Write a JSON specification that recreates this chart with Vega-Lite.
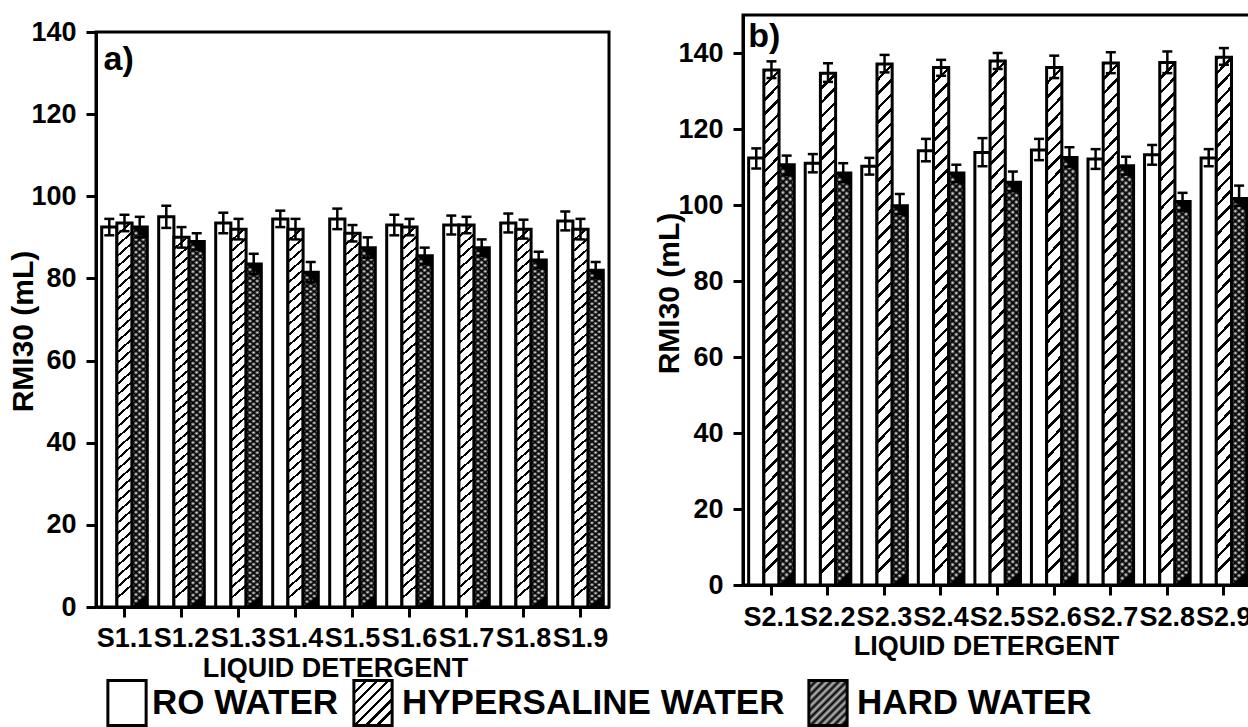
{
  "$schema": "https://vega.github.io/schema/vega-lite/v6.json",
  "background": "white",
  "padding": {"left": 6, "top": 13, "right": 0, "bottom": 0},
  "bounds": "flush",
  "spacing": 647,
  "datasets": {
    "bars": [
      {"panel": "a", "sample": "S1.1", "water": "RO WATER", "mean": 92.5, "low": 90.5, "high": 94.5},
      {"panel": "a", "sample": "S1.1", "water": "HYPERSALINE WATER", "mean": 93.5, "low": 91.5, "high": 95.5},
      {"panel": "a", "sample": "S1.1", "water": "HARD WATER", "mean": 92.5, "low": 90, "high": 95},
      {"panel": "a", "sample": "S1.2", "water": "RO WATER", "mean": 95, "low": 92.3, "high": 97.7},
      {"panel": "a", "sample": "S1.2", "water": "HYPERSALINE WATER", "mean": 90, "low": 87.5, "high": 92.5},
      {"panel": "a", "sample": "S1.2", "water": "HARD WATER", "mean": 89, "low": 87, "high": 91},
      {"panel": "a", "sample": "S1.3", "water": "RO WATER", "mean": 93.5, "low": 91, "high": 96},
      {"panel": "a", "sample": "S1.3", "water": "HYPERSALINE WATER", "mean": 92, "low": 89.5, "high": 94.5},
      {"panel": "a", "sample": "S1.3", "water": "HARD WATER", "mean": 83.5, "low": 81, "high": 86},
      {"panel": "a", "sample": "S1.4", "water": "RO WATER", "mean": 94.5, "low": 92.5, "high": 96.5},
      {"panel": "a", "sample": "S1.4", "water": "HYPERSALINE WATER", "mean": 92, "low": 89.5, "high": 94.5},
      {"panel": "a", "sample": "S1.4", "water": "HARD WATER", "mean": 81.5, "low": 79, "high": 84},
      {"panel": "a", "sample": "S1.5", "water": "RO WATER", "mean": 94.5, "low": 92, "high": 97},
      {"panel": "a", "sample": "S1.5", "water": "HYPERSALINE WATER", "mean": 91, "low": 89, "high": 93},
      {"panel": "a", "sample": "S1.5", "water": "HARD WATER", "mean": 87.5, "low": 85, "high": 90},
      {"panel": "a", "sample": "S1.6", "water": "RO WATER", "mean": 93, "low": 90.5, "high": 95.5},
      {"panel": "a", "sample": "S1.6", "water": "HYPERSALINE WATER", "mean": 92.5, "low": 90.5, "high": 94.5},
      {"panel": "a", "sample": "S1.6", "water": "HARD WATER", "mean": 85.5, "low": 83.5, "high": 87.5},
      {"panel": "a", "sample": "S1.7", "water": "RO WATER", "mean": 93, "low": 90.7, "high": 95.3},
      {"panel": "a", "sample": "S1.7", "water": "HYPERSALINE WATER", "mean": 93, "low": 91, "high": 95},
      {"panel": "a", "sample": "S1.7", "water": "HARD WATER", "mean": 87.5, "low": 85.5, "high": 89.5},
      {"panel": "a", "sample": "S1.8", "water": "RO WATER", "mean": 93.5, "low": 91.2, "high": 95.8},
      {"panel": "a", "sample": "S1.8", "water": "HYPERSALINE WATER", "mean": 92, "low": 89.7, "high": 94.3},
      {"panel": "a", "sample": "S1.8", "water": "HARD WATER", "mean": 84.5, "low": 82.5, "high": 86.5},
      {"panel": "a", "sample": "S1.9", "water": "RO WATER", "mean": 94, "low": 91.7, "high": 96.3},
      {"panel": "a", "sample": "S1.9", "water": "HYPERSALINE WATER", "mean": 92, "low": 89.5, "high": 94.5},
      {"panel": "a", "sample": "S1.9", "water": "HARD WATER", "mean": 82, "low": 80, "high": 84},
      {"panel": "b", "sample": "S2.1", "water": "RO WATER", "mean": 112.4, "low": 109.6, "high": 114.9},
      {"panel": "b", "sample": "S2.1", "water": "HYPERSALINE WATER", "mean": 135.5, "low": 133.4, "high": 137.8},
      {"panel": "b", "sample": "S2.1", "water": "HARD WATER", "mean": 110.6, "low": 107.9, "high": 113},
      {"panel": "b", "sample": "S2.2", "water": "RO WATER", "mean": 111, "low": 108.6, "high": 113.4},
      {"panel": "b", "sample": "S2.2", "water": "HYPERSALINE WATER", "mean": 134.7, "low": 132.4, "high": 137.3},
      {"panel": "b", "sample": "S2.2", "water": "HARD WATER", "mean": 108.4, "low": 106, "high": 111},
      {"panel": "b", "sample": "S2.3", "water": "RO WATER", "mean": 110.2, "low": 108, "high": 112.4},
      {"panel": "b", "sample": "S2.3", "water": "HYPERSALINE WATER", "mean": 137.1, "low": 134.9, "high": 139.5},
      {"panel": "b", "sample": "S2.3", "water": "HARD WATER", "mean": 99.8, "low": 97.6, "high": 102.9},
      {"panel": "b", "sample": "S2.4", "water": "RO WATER", "mean": 114.3, "low": 111.5, "high": 117.4},
      {"panel": "b", "sample": "S2.4", "water": "HYPERSALINE WATER", "mean": 136.2, "low": 134, "high": 138.2},
      {"panel": "b", "sample": "S2.4", "water": "HARD WATER", "mean": 108.4, "low": 106, "high": 110.6},
      {"panel": "b", "sample": "S2.5", "water": "RO WATER", "mean": 113.8, "low": 110.2, "high": 117.6},
      {"panel": "b", "sample": "S2.5", "water": "HYPERSALINE WATER", "mean": 137.9, "low": 135.8, "high": 140},
      {"panel": "b", "sample": "S2.5", "water": "HARD WATER", "mean": 106, "low": 103.6, "high": 108.8},
      {"panel": "b", "sample": "S2.6", "water": "RO WATER", "mean": 114.5, "low": 111.8, "high": 117.4},
      {"panel": "b", "sample": "S2.6", "water": "HYPERSALINE WATER", "mean": 136.2, "low": 133.4, "high": 139.3},
      {"panel": "b", "sample": "S2.6", "water": "HARD WATER", "mean": 112.5, "low": 110.1, "high": 115.2},
      {"panel": "b", "sample": "S2.7", "water": "RO WATER", "mean": 112.1, "low": 109.5, "high": 114.7},
      {"panel": "b", "sample": "S2.7", "water": "HYPERSALINE WATER", "mean": 137.4, "low": 134.7, "high": 140.2},
      {"panel": "b", "sample": "S2.7", "water": "HARD WATER", "mean": 110.3, "low": 108, "high": 112.7},
      {"panel": "b", "sample": "S2.8", "water": "RO WATER", "mean": 113.2, "low": 110.6, "high": 115.8},
      {"panel": "b", "sample": "S2.8", "water": "HYPERSALINE WATER", "mean": 137.5, "low": 134.7, "high": 140.4},
      {"panel": "b", "sample": "S2.8", "water": "HARD WATER", "mean": 100.9, "low": 98.5, "high": 103.2},
      {"panel": "b", "sample": "S2.9", "water": "RO WATER", "mean": 112.4, "low": 110.2, "high": 114.7},
      {"panel": "b", "sample": "S2.9", "water": "HYPERSALINE WATER", "mean": 138.9, "low": 136.9, "high": 141.3},
      {"panel": "b", "sample": "S2.9", "water": "HARD WATER", "mean": 101.7, "low": 99.8, "high": 105.1}
    ]
  },
  "hconcat": [
    {
      "bounds": "flush",
      "spacing": 16,
      "vconcat": [
        {
          "width": 10,
          "height": 1,
          "data": {"values": [{"k": 1}]},
          "mark": {"type": "rule", "opacity": 0},
          "encoding": {}
        },
        {
          "width": 513,
          "height": 575,
          "view": {"stroke": "black", "strokeWidth": 3},
          "data": {"name": "bars"},
          "transform": [{"filter": "datum.panel == 'a'"}],
          "resolve": {"scale": {"stroke": "independent"}, "legend": {"stroke": "independent"}},
          "encoding": {
            "x": {
              "field": "sample", "type": "nominal", "sort": null,
              "scale": {"paddingInner": 0.2, "paddingOuter": 0.1},
              "axis": {"title": "LIQUID DETERGENT", "labelAngle": 0, "labelOverlap": false, "labelBound": false, "labelPadding": 8, "titleX": 239, "titleY": 48, "titleBaseline": "top"}
            },
            "y": {
              "field": "mean", "type": "quantitative",
              "scale": {"domain": [0, 140], "nice": false},
              "axis": {"title": "RMI30 (mL)", "values": [0, 20, 40, 60, 80, 100, 120, 140], "labelPadding": 10, "titleX": -58, "titleY": 299, "titleBaseline": "bottom", "titleFontSize": 30}
            }
          },
          "layer": [
            {
              "transform": [{"filter": "datum.water == 'RO WATER'"}],
              "mark": {"type": "bar", "fill": "white", "stroke": "black", "strokeWidth": 3},
              "encoding": {"xOffset": {"field": "water", "type": "nominal", "sort": null, "scale": {"domain": ["RO WATER", "HYPERSALINE WATER", "HARD WATER"]}}}
            },
            {
              "transform": [{"filter": "datum.water == 'HYPERSALINE WATER'"}],
              "encoding": {"xOffset": {"field": "water", "type": "nominal", "sort": null, "scale": {"domain": ["RO WATER", "HYPERSALINE WATER", "HARD WATER"]}}},
              "mark": {"type": "bar", "stroke": "black", "strokeWidth": 3,
                "fill": {"gradient": "linear", "x1": 0, "y1": 0, "x2": 0.035, "y2": 1, "stops": [
                  {"offset": 0, "color": "#000"}, {"offset": 0.0069, "color": "#000"}, {"offset": 0.0069, "color": "#fff"},
                  {"offset": 0.0278, "color": "#fff"}, {"offset": 0.0278, "color": "#000"}, {"offset": 0.0347, "color": "#000"}, {"offset": 0.0347, "color": "#fff"},
                  {"offset": 0.0556, "color": "#fff"}, {"offset": 0.0556, "color": "#000"}, {"offset": 0.0625, "color": "#000"}, {"offset": 0.0625, "color": "#fff"},
                  {"offset": 0.0833, "color": "#fff"}, {"offset": 0.0833, "color": "#000"}, {"offset": 0.0903, "color": "#000"}, {"offset": 0.0903, "color": "#fff"},
                  {"offset": 0.1111, "color": "#fff"}, {"offset": 0.1111, "color": "#000"}, {"offset": 0.1181, "color": "#000"}, {"offset": 0.1181, "color": "#fff"},
                  {"offset": 0.1389, "color": "#fff"}, {"offset": 0.1389, "color": "#000"}, {"offset": 0.1458, "color": "#000"}, {"offset": 0.1458, "color": "#fff"},
                  {"offset": 0.1667, "color": "#fff"}, {"offset": 0.1667, "color": "#000"}, {"offset": 0.1736, "color": "#000"}, {"offset": 0.1736, "color": "#fff"},
                  {"offset": 0.1944, "color": "#fff"}, {"offset": 0.1944, "color": "#000"}, {"offset": 0.2014, "color": "#000"}, {"offset": 0.2014, "color": "#fff"},
                  {"offset": 0.2222, "color": "#fff"}, {"offset": 0.2222, "color": "#000"}, {"offset": 0.2292, "color": "#000"}, {"offset": 0.2292, "color": "#fff"},
                  {"offset": 0.25, "color": "#fff"}, {"offset": 0.25, "color": "#000"}, {"offset": 0.2569, "color": "#000"}, {"offset": 0.2569, "color": "#fff"},
                  {"offset": 0.2778, "color": "#fff"}, {"offset": 0.2778, "color": "#000"}, {"offset": 0.2847, "color": "#000"}, {"offset": 0.2847, "color": "#fff"},
                  {"offset": 0.3056, "color": "#fff"}, {"offset": 0.3056, "color": "#000"}, {"offset": 0.3125, "color": "#000"}, {"offset": 0.3125, "color": "#fff"},
                  {"offset": 0.3333, "color": "#fff"}, {"offset": 0.3333, "color": "#000"}, {"offset": 0.3403, "color": "#000"}, {"offset": 0.3403, "color": "#fff"},
                  {"offset": 0.3611, "color": "#fff"}, {"offset": 0.3611, "color": "#000"}, {"offset": 0.3681, "color": "#000"}, {"offset": 0.3681, "color": "#fff"},
                  {"offset": 0.3889, "color": "#fff"}, {"offset": 0.3889, "color": "#000"}, {"offset": 0.3958, "color": "#000"}, {"offset": 0.3958, "color": "#fff"},
                  {"offset": 0.4167, "color": "#fff"}, {"offset": 0.4167, "color": "#000"}, {"offset": 0.4236, "color": "#000"}, {"offset": 0.4236, "color": "#fff"},
                  {"offset": 0.4444, "color": "#fff"}, {"offset": 0.4444, "color": "#000"}, {"offset": 0.4514, "color": "#000"}, {"offset": 0.4514, "color": "#fff"},
                  {"offset": 0.4722, "color": "#fff"}, {"offset": 0.4722, "color": "#000"}, {"offset": 0.4792, "color": "#000"}, {"offset": 0.4792, "color": "#fff"},
                  {"offset": 0.5, "color": "#fff"}, {"offset": 0.5, "color": "#000"}, {"offset": 0.5069, "color": "#000"}, {"offset": 0.5069, "color": "#fff"},
                  {"offset": 0.5278, "color": "#fff"}, {"offset": 0.5278, "color": "#000"}, {"offset": 0.5347, "color": "#000"}, {"offset": 0.5347, "color": "#fff"},
                  {"offset": 0.5556, "color": "#fff"}, {"offset": 0.5556, "color": "#000"}, {"offset": 0.5625, "color": "#000"}, {"offset": 0.5625, "color": "#fff"},
                  {"offset": 0.5833, "color": "#fff"}, {"offset": 0.5833, "color": "#000"}, {"offset": 0.5903, "color": "#000"}, {"offset": 0.5903, "color": "#fff"},
                  {"offset": 0.6111, "color": "#fff"}, {"offset": 0.6111, "color": "#000"}, {"offset": 0.6181, "color": "#000"}, {"offset": 0.6181, "color": "#fff"},
                  {"offset": 0.6389, "color": "#fff"}, {"offset": 0.6389, "color": "#000"}, {"offset": 0.6458, "color": "#000"}, {"offset": 0.6458, "color": "#fff"},
                  {"offset": 0.6667, "color": "#fff"}, {"offset": 0.6667, "color": "#000"}, {"offset": 0.6736, "color": "#000"}, {"offset": 0.6736, "color": "#fff"},
                  {"offset": 0.6944, "color": "#fff"}, {"offset": 0.6944, "color": "#000"}, {"offset": 0.7014, "color": "#000"}, {"offset": 0.7014, "color": "#fff"},
                  {"offset": 0.7222, "color": "#fff"}, {"offset": 0.7222, "color": "#000"}, {"offset": 0.7292, "color": "#000"}, {"offset": 0.7292, "color": "#fff"},
                  {"offset": 0.75, "color": "#fff"}, {"offset": 0.75, "color": "#000"}, {"offset": 0.7569, "color": "#000"}, {"offset": 0.7569, "color": "#fff"},
                  {"offset": 0.7778, "color": "#fff"}, {"offset": 0.7778, "color": "#000"}, {"offset": 0.7847, "color": "#000"}, {"offset": 0.7847, "color": "#fff"},
                  {"offset": 0.8056, "color": "#fff"}, {"offset": 0.8056, "color": "#000"}, {"offset": 0.8125, "color": "#000"}, {"offset": 0.8125, "color": "#fff"},
                  {"offset": 0.8333, "color": "#fff"}, {"offset": 0.8333, "color": "#000"}, {"offset": 0.8403, "color": "#000"}, {"offset": 0.8403, "color": "#fff"},
                  {"offset": 0.8611, "color": "#fff"}, {"offset": 0.8611, "color": "#000"}, {"offset": 0.8681, "color": "#000"}, {"offset": 0.8681, "color": "#fff"},
                  {"offset": 0.8889, "color": "#fff"}, {"offset": 0.8889, "color": "#000"}, {"offset": 0.8958, "color": "#000"}, {"offset": 0.8958, "color": "#fff"},
                  {"offset": 0.9167, "color": "#fff"}, {"offset": 0.9167, "color": "#000"}, {"offset": 0.9236, "color": "#000"}, {"offset": 0.9236, "color": "#fff"},
                  {"offset": 0.9444, "color": "#fff"}, {"offset": 0.9444, "color": "#000"}, {"offset": 0.9514, "color": "#000"}, {"offset": 0.9514, "color": "#fff"},
                  {"offset": 0.9722, "color": "#fff"}, {"offset": 0.9722, "color": "#000"}, {"offset": 0.9792, "color": "#000"}, {"offset": 0.9792, "color": "#fff"}
                ]}}
            },
            {
              "transform": [{"filter": "datum.water == 'HARD WATER'"}],
              "encoding": {"xOffset": {"field": "water", "type": "nominal", "sort": null, "scale": {"domain": ["RO WATER", "HYPERSALINE WATER", "HARD WATER"]}}},
              "mark": {"type": "bar",
                "fill": {"gradient": "linear", "x1": 0, "y1": 0, "x2": 0.035, "y2": 1, "stops": [
                  {"offset": 0, "color": "#000"}, {"offset": 0.0083, "color": "#fff"}, {"offset": 0.0167, "color": "#000"}, {"offset": 0.025, "color": "#fff"},
                  {"offset": 0.0333, "color": "#000"}, {"offset": 0.0417, "color": "#fff"}, {"offset": 0.05, "color": "#000"}, {"offset": 0.0583, "color": "#fff"},
                  {"offset": 0.0667, "color": "#000"}, {"offset": 0.075, "color": "#fff"}, {"offset": 0.0833, "color": "#000"}, {"offset": 0.0917, "color": "#fff"},
                  {"offset": 0.1, "color": "#000"}, {"offset": 0.1083, "color": "#fff"}, {"offset": 0.1167, "color": "#000"}, {"offset": 0.125, "color": "#fff"},
                  {"offset": 0.1333, "color": "#000"}, {"offset": 0.1417, "color": "#fff"}, {"offset": 0.15, "color": "#000"}, {"offset": 0.1583, "color": "#fff"},
                  {"offset": 0.1667, "color": "#000"}, {"offset": 0.175, "color": "#fff"}, {"offset": 0.1833, "color": "#000"}, {"offset": 0.1917, "color": "#fff"},
                  {"offset": 0.2, "color": "#000"}, {"offset": 0.2083, "color": "#fff"}, {"offset": 0.2167, "color": "#000"}, {"offset": 0.225, "color": "#fff"},
                  {"offset": 0.2333, "color": "#000"}, {"offset": 0.2417, "color": "#fff"}, {"offset": 0.25, "color": "#000"}, {"offset": 0.2583, "color": "#fff"},
                  {"offset": 0.2667, "color": "#000"}, {"offset": 0.275, "color": "#fff"}, {"offset": 0.2833, "color": "#000"}, {"offset": 0.2917, "color": "#fff"},
                  {"offset": 0.3, "color": "#000"}, {"offset": 0.3083, "color": "#fff"}, {"offset": 0.3167, "color": "#000"}, {"offset": 0.325, "color": "#fff"},
                  {"offset": 0.3333, "color": "#000"}, {"offset": 0.3417, "color": "#fff"}, {"offset": 0.35, "color": "#000"}, {"offset": 0.3583, "color": "#fff"},
                  {"offset": 0.3667, "color": "#000"}, {"offset": 0.375, "color": "#fff"}, {"offset": 0.3833, "color": "#000"}, {"offset": 0.3917, "color": "#fff"},
                  {"offset": 0.4, "color": "#000"}, {"offset": 0.4083, "color": "#fff"}, {"offset": 0.4167, "color": "#000"}, {"offset": 0.425, "color": "#fff"},
                  {"offset": 0.4333, "color": "#000"}, {"offset": 0.4417, "color": "#fff"}, {"offset": 0.45, "color": "#000"}, {"offset": 0.4583, "color": "#fff"},
                  {"offset": 0.4667, "color": "#000"}, {"offset": 0.475, "color": "#fff"}, {"offset": 0.4833, "color": "#000"}, {"offset": 0.4917, "color": "#fff"},
                  {"offset": 0.5, "color": "#000"}, {"offset": 0.5083, "color": "#fff"}, {"offset": 0.5167, "color": "#000"}, {"offset": 0.525, "color": "#fff"},
                  {"offset": 0.5333, "color": "#000"}, {"offset": 0.5417, "color": "#fff"}, {"offset": 0.55, "color": "#000"}, {"offset": 0.5583, "color": "#fff"},
                  {"offset": 0.5667, "color": "#000"}, {"offset": 0.575, "color": "#fff"}, {"offset": 0.5833, "color": "#000"}, {"offset": 0.5917, "color": "#fff"},
                  {"offset": 0.6, "color": "#000"}, {"offset": 0.6083, "color": "#fff"}, {"offset": 0.6167, "color": "#000"}, {"offset": 0.625, "color": "#fff"},
                  {"offset": 0.6333, "color": "#000"}, {"offset": 0.6417, "color": "#fff"}, {"offset": 0.65, "color": "#000"}, {"offset": 0.6583, "color": "#fff"},
                  {"offset": 0.6667, "color": "#000"}, {"offset": 0.675, "color": "#fff"}, {"offset": 0.6833, "color": "#000"}, {"offset": 0.6917, "color": "#fff"},
                  {"offset": 0.7, "color": "#000"}, {"offset": 0.7083, "color": "#fff"}, {"offset": 0.7167, "color": "#000"}, {"offset": 0.725, "color": "#fff"},
                  {"offset": 0.7333, "color": "#000"}, {"offset": 0.7417, "color": "#fff"}, {"offset": 0.75, "color": "#000"}, {"offset": 0.7583, "color": "#fff"},
                  {"offset": 0.7667, "color": "#000"}, {"offset": 0.775, "color": "#fff"}, {"offset": 0.7833, "color": "#000"}, {"offset": 0.7917, "color": "#fff"},
                  {"offset": 0.8, "color": "#000"}, {"offset": 0.8083, "color": "#fff"}, {"offset": 0.8167, "color": "#000"}, {"offset": 0.825, "color": "#fff"},
                  {"offset": 0.8333, "color": "#000"}, {"offset": 0.8417, "color": "#fff"}, {"offset": 0.85, "color": "#000"}, {"offset": 0.8583, "color": "#fff"},
                  {"offset": 0.8667, "color": "#000"}, {"offset": 0.875, "color": "#fff"}, {"offset": 0.8833, "color": "#000"}, {"offset": 0.8917, "color": "#fff"},
                  {"offset": 0.9, "color": "#000"}, {"offset": 0.9083, "color": "#fff"}, {"offset": 0.9167, "color": "#000"}, {"offset": 0.925, "color": "#fff"},
                  {"offset": 0.9333, "color": "#000"}, {"offset": 0.9417, "color": "#fff"}, {"offset": 0.95, "color": "#000"}, {"offset": 0.9583, "color": "#fff"},
                  {"offset": 0.9667, "color": "#000"}, {"offset": 0.975, "color": "#fff"}, {"offset": 0.9833, "color": "#000"}, {"offset": 0.9917, "color": "#fff"},
                  {"offset": 1, "color": "#000"}
                ]}}
            },
            {
              "transform": [{"filter": "datum.water == 'HARD WATER'"}],
              "encoding": {"xOffset": {"field": "water", "type": "nominal", "sort": null, "scale": {"domain": ["RO WATER", "HYPERSALINE WATER", "HARD WATER"]}}},
              "mark": {"type": "bar", "stroke": "black", "strokeWidth": 3,
                "fill": {"gradient": "linear", "x1": 0.035, "y1": 0, "x2": 0, "y2": 1, "stops": [
                  {"offset": 0, "color": "#000"}, {"offset": 0.0083, "color": "transparent"}, {"offset": 0.0167, "color": "#000"}, {"offset": 0.025, "color": "transparent"},
                  {"offset": 0.0333, "color": "#000"}, {"offset": 0.0417, "color": "transparent"}, {"offset": 0.05, "color": "#000"}, {"offset": 0.0583, "color": "transparent"},
                  {"offset": 0.0667, "color": "#000"}, {"offset": 0.075, "color": "transparent"}, {"offset": 0.0833, "color": "#000"}, {"offset": 0.0917, "color": "transparent"},
                  {"offset": 0.1, "color": "#000"}, {"offset": 0.1083, "color": "transparent"}, {"offset": 0.1167, "color": "#000"}, {"offset": 0.125, "color": "transparent"},
                  {"offset": 0.1333, "color": "#000"}, {"offset": 0.1417, "color": "transparent"}, {"offset": 0.15, "color": "#000"}, {"offset": 0.1583, "color": "transparent"},
                  {"offset": 0.1667, "color": "#000"}, {"offset": 0.175, "color": "transparent"}, {"offset": 0.1833, "color": "#000"}, {"offset": 0.1917, "color": "transparent"},
                  {"offset": 0.2, "color": "#000"}, {"offset": 0.2083, "color": "transparent"}, {"offset": 0.2167, "color": "#000"}, {"offset": 0.225, "color": "transparent"},
                  {"offset": 0.2333, "color": "#000"}, {"offset": 0.2417, "color": "transparent"}, {"offset": 0.25, "color": "#000"}, {"offset": 0.2583, "color": "transparent"},
                  {"offset": 0.2667, "color": "#000"}, {"offset": 0.275, "color": "transparent"}, {"offset": 0.2833, "color": "#000"}, {"offset": 0.2917, "color": "transparent"},
                  {"offset": 0.3, "color": "#000"}, {"offset": 0.3083, "color": "transparent"}, {"offset": 0.3167, "color": "#000"}, {"offset": 0.325, "color": "transparent"},
                  {"offset": 0.3333, "color": "#000"}, {"offset": 0.3417, "color": "transparent"}, {"offset": 0.35, "color": "#000"}, {"offset": 0.3583, "color": "transparent"},
                  {"offset": 0.3667, "color": "#000"}, {"offset": 0.375, "color": "transparent"}, {"offset": 0.3833, "color": "#000"}, {"offset": 0.3917, "color": "transparent"},
                  {"offset": 0.4, "color": "#000"}, {"offset": 0.4083, "color": "transparent"}, {"offset": 0.4167, "color": "#000"}, {"offset": 0.425, "color": "transparent"},
                  {"offset": 0.4333, "color": "#000"}, {"offset": 0.4417, "color": "transparent"}, {"offset": 0.45, "color": "#000"}, {"offset": 0.4583, "color": "transparent"},
                  {"offset": 0.4667, "color": "#000"}, {"offset": 0.475, "color": "transparent"}, {"offset": 0.4833, "color": "#000"}, {"offset": 0.4917, "color": "transparent"},
                  {"offset": 0.5, "color": "#000"}, {"offset": 0.5083, "color": "transparent"}, {"offset": 0.5167, "color": "#000"}, {"offset": 0.525, "color": "transparent"},
                  {"offset": 0.5333, "color": "#000"}, {"offset": 0.5417, "color": "transparent"}, {"offset": 0.55, "color": "#000"}, {"offset": 0.5583, "color": "transparent"},
                  {"offset": 0.5667, "color": "#000"}, {"offset": 0.575, "color": "transparent"}, {"offset": 0.5833, "color": "#000"}, {"offset": 0.5917, "color": "transparent"},
                  {"offset": 0.6, "color": "#000"}, {"offset": 0.6083, "color": "transparent"}, {"offset": 0.6167, "color": "#000"}, {"offset": 0.625, "color": "transparent"},
                  {"offset": 0.6333, "color": "#000"}, {"offset": 0.6417, "color": "transparent"}, {"offset": 0.65, "color": "#000"}, {"offset": 0.6583, "color": "transparent"},
                  {"offset": 0.6667, "color": "#000"}, {"offset": 0.675, "color": "transparent"}, {"offset": 0.6833, "color": "#000"}, {"offset": 0.6917, "color": "transparent"},
                  {"offset": 0.7, "color": "#000"}, {"offset": 0.7083, "color": "transparent"}, {"offset": 0.7167, "color": "#000"}, {"offset": 0.725, "color": "transparent"},
                  {"offset": 0.7333, "color": "#000"}, {"offset": 0.7417, "color": "transparent"}, {"offset": 0.75, "color": "#000"}, {"offset": 0.7583, "color": "transparent"},
                  {"offset": 0.7667, "color": "#000"}, {"offset": 0.775, "color": "transparent"}, {"offset": 0.7833, "color": "#000"}, {"offset": 0.7917, "color": "transparent"},
                  {"offset": 0.8, "color": "#000"}, {"offset": 0.8083, "color": "transparent"}, {"offset": 0.8167, "color": "#000"}, {"offset": 0.825, "color": "transparent"},
                  {"offset": 0.8333, "color": "#000"}, {"offset": 0.8417, "color": "transparent"}, {"offset": 0.85, "color": "#000"}, {"offset": 0.8583, "color": "transparent"},
                  {"offset": 0.8667, "color": "#000"}, {"offset": 0.875, "color": "transparent"}, {"offset": 0.8833, "color": "#000"}, {"offset": 0.8917, "color": "transparent"},
                  {"offset": 0.9, "color": "#000"}, {"offset": 0.9083, "color": "transparent"}, {"offset": 0.9167, "color": "#000"}, {"offset": 0.925, "color": "transparent"},
                  {"offset": 0.9333, "color": "#000"}, {"offset": 0.9417, "color": "transparent"}, {"offset": 0.95, "color": "#000"}, {"offset": 0.9583, "color": "transparent"},
                  {"offset": 0.9667, "color": "#000"}, {"offset": 0.975, "color": "transparent"}, {"offset": 0.9833, "color": "#000"}, {"offset": 0.9917, "color": "transparent"},
                  {"offset": 1, "color": "#000"}
                ]}}
            },
            {
              "mark": {"type": "rule", "color": "black", "strokeWidth": 2.5},
              "encoding": {
                "xOffset": {"field": "water", "type": "nominal", "sort": null, "scale": {"domain": ["RO WATER", "HYPERSALINE WATER", "HARD WATER"]}},
                "y": {"field": "low", "type": "quantitative"},
                "y2": {"field": "high"}
              }
            },
            {
              "mark": {"type": "tick", "color": "black", "thickness": 2.5, "size": 10, "opacity": 1},
              "encoding": {
                "xOffset": {"field": "water", "type": "nominal", "sort": null, "scale": {"domain": ["RO WATER", "HYPERSALINE WATER", "HARD WATER"]}},
                "y": {"field": "low", "type": "quantitative"}
              }
            },
            {
              "mark": {"type": "tick", "color": "black", "thickness": 2.5, "size": 10, "opacity": 1},
              "encoding": {
                "xOffset": {"field": "water", "type": "nominal", "sort": null, "scale": {"domain": ["RO WATER", "HYPERSALINE WATER", "HARD WATER"]}},
                "y": {"field": "high", "type": "quantitative"}
              }
            },
            {
              "transform": [{"filter": "datum.sample == 'S1.1' && datum.water == 'RO WATER'"}],
              "mark": {"type": "text", "align": "left", "baseline": "top", "dx": -21, "dy": 11, "font": "Liberation Sans", "fontSize": 34, "fontWeight": "bold", "fill": "black"},
              "encoding": {
                "y": {"datum": 140},
                "text": {"value": "a)"}
              }
            },
            {
              "data": {"values": [{"panel": "a", "water": "RO WATER"}]},
              "transform": [{"filter": "false"}],
              "mark": {"type": "point", "filled": false, "opacity": 1, "fill": "white", "shape": "M-0.85,-1H0.85V1H-0.85Z", "strokeWidth": 3},
              "encoding": {
                "stroke": {
                  "field": "water", "type": "nominal",
                  "scale": {"domain": ["RO WATER"], "range": ["black"]},
                  "legend": {"orient": "none", "legendX": 7, "legendY": 647, "title": null, "symbolType": "M-0.85,-1H0.85V1H-0.85Z", "symbolSize": 2025, "symbolStrokeWidth": 3, "symbolOpacity": 1, "labelOffset": 1, "padding": 0}
                }
              }
            },
            {
              "data": {"values": [{"panel": "a", "water": "HYPERSALINE WATER"}]},
              "transform": [{"filter": "false"}],
              "mark": {"type": "point", "filled": false, "opacity": 1, "shape": "M-0.85,-1H0.85V1H-0.85Z", "strokeWidth": 3,
                "fill": {"gradient": "linear", "x1": 0, "y1": 0, "x2": 0.85, "y2": 1, "stops": [
                  {"offset": 0, "color": "#000"}, {"offset": 0.0429, "color": "#000"}, {"offset": 0.0429, "color": "#fff"},
                  {"offset": 0.1429, "color": "#fff"}, {"offset": 0.1429, "color": "#000"}, {"offset": 0.1857, "color": "#000"}, {"offset": 0.1857, "color": "#fff"},
                  {"offset": 0.2857, "color": "#fff"}, {"offset": 0.2857, "color": "#000"}, {"offset": 0.3286, "color": "#000"}, {"offset": 0.3286, "color": "#fff"},
                  {"offset": 0.4286, "color": "#fff"}, {"offset": 0.4286, "color": "#000"}, {"offset": 0.4714, "color": "#000"}, {"offset": 0.4714, "color": "#fff"},
                  {"offset": 0.5714, "color": "#fff"}, {"offset": 0.5714, "color": "#000"}, {"offset": 0.6143, "color": "#000"}, {"offset": 0.6143, "color": "#fff"},
                  {"offset": 0.7143, "color": "#fff"}, {"offset": 0.7143, "color": "#000"}, {"offset": 0.7571, "color": "#000"}, {"offset": 0.7571, "color": "#fff"},
                  {"offset": 0.8571, "color": "#fff"}, {"offset": 0.8571, "color": "#000"}, {"offset": 0.9, "color": "#000"}, {"offset": 0.9, "color": "#fff"}
                ]}},
              "encoding": {
                "stroke": {
                  "field": "water", "type": "nominal",
                  "scale": {"domain": ["HYPERSALINE WATER"], "range": ["black"]},
                  "legend": {"orient": "none", "legendX": 253, "legendY": 647, "title": null, "symbolType": "M-0.85,-1H0.85V1H-0.85Z", "symbolSize": 2025, "symbolStrokeWidth": 3, "symbolOpacity": 1, "labelOffset": 5, "padding": 0}
                }
              }
            },
            {
              "data": {"values": [{"panel": "a", "water": "HARD WATER"}]},
              "transform": [{"filter": "false"}],
              "mark": {"type": "point", "filled": false, "opacity": 1, "shape": "M-0.85,-1H0.85V1H-0.85Z", "strokeWidth": 3,
                "fill": {"gradient": "linear", "x1": 0, "y1": 0, "x2": 0.85, "y2": 1, "stops": [
                  {"offset": 0, "color": "#000"}, {"offset": 0.05, "color": "#bbb"}, {"offset": 0.1, "color": "#000"}, {"offset": 0.15, "color": "#bbb"},
                  {"offset": 0.2, "color": "#000"}, {"offset": 0.25, "color": "#bbb"}, {"offset": 0.3, "color": "#000"}, {"offset": 0.35, "color": "#bbb"},
                  {"offset": 0.4, "color": "#000"}, {"offset": 0.45, "color": "#bbb"}, {"offset": 0.5, "color": "#000"}, {"offset": 0.55, "color": "#bbb"},
                  {"offset": 0.6, "color": "#000"}, {"offset": 0.65, "color": "#bbb"}, {"offset": 0.7, "color": "#000"}, {"offset": 0.75, "color": "#bbb"},
                  {"offset": 0.8, "color": "#000"}, {"offset": 0.85, "color": "#bbb"}, {"offset": 0.9, "color": "#000"}, {"offset": 0.95, "color": "#bbb"},
                  {"offset": 1, "color": "#000"}
                ]}},
              "encoding": {
                "stroke": {
                  "field": "water", "type": "nominal",
                  "scale": {"domain": ["HARD WATER"], "range": ["black"]},
                  "legend": {"orient": "none", "legendX": 708, "legendY": 647, "title": null, "symbolType": "M-0.85,-1H0.85V1H-0.85Z", "symbolSize": 2025, "symbolStrokeWidth": 3, "symbolOpacity": 1, "labelOffset": 5, "padding": 0}
                }
              }
            }
          ]
        }
      ]
    },
    {
      "width": 509,
      "height": 570,
      "view": {"stroke": "black", "strokeWidth": 3},
      "data": {"name": "bars"},
      "transform": [{"filter": "datum.panel == 'b'"}],
      "encoding": {
        "x": {
          "field": "sample", "type": "nominal", "sort": null,
          "scale": {"paddingInner": 0.2, "paddingOuter": 0.1},
          "axis": {"title": "LIQUID DETERGENT", "labelAngle": 0, "labelOverlap": false, "labelBound": false, "labelPadding": 9, "titleX": 243, "titleY": 48, "titleBaseline": "top"}
        },
        "y": {
          "field": "mean", "type": "quantitative",
          "scale": {"domain": [0, 150], "nice": false},
          "axis": {"title": "RMI30 (mL)", "values": [0, 20, 40, 60, 80, 100, 120, 140], "labelPadding": 10, "titleX": -59, "titleY": 278, "titleBaseline": "bottom", "titleFontSize": 30}
        }
      },
      "layer": [
        {
          "transform": [{"filter": "datum.water == 'RO WATER'"}],
          "encoding": {"xOffset": {"field": "water", "type": "nominal", "sort": null, "scale": {"domain": ["RO WATER", "HYPERSALINE WATER", "HARD WATER"]}}},
          "mark": {"type": "bar", "fill": "white", "stroke": "black", "strokeWidth": 3}
        },
        {
          "transform": [{"filter": "datum.water == 'HYPERSALINE WATER'"}],
          "encoding": {"xOffset": {"field": "water", "type": "nominal", "sort": null, "scale": {"domain": ["RO WATER", "HYPERSALINE WATER", "HARD WATER"]}}},
          "mark": {"type": "bar", "stroke": "black", "strokeWidth": 3,
            "fill": {"gradient": "linear", "x1": 0, "y1": 0, "x2": 0.03, "y2": 1, "stops": [
              {"offset": 0, "color": "#000"}, {"offset": 0.0069, "color": "#000"}, {"offset": 0.0069, "color": "#fff"},
              {"offset": 0.0278, "color": "#fff"}, {"offset": 0.0278, "color": "#000"}, {"offset": 0.0347, "color": "#000"}, {"offset": 0.0347, "color": "#fff"},
              {"offset": 0.0556, "color": "#fff"}, {"offset": 0.0556, "color": "#000"}, {"offset": 0.0625, "color": "#000"}, {"offset": 0.0625, "color": "#fff"},
              {"offset": 0.0833, "color": "#fff"}, {"offset": 0.0833, "color": "#000"}, {"offset": 0.0903, "color": "#000"}, {"offset": 0.0903, "color": "#fff"},
              {"offset": 0.1111, "color": "#fff"}, {"offset": 0.1111, "color": "#000"}, {"offset": 0.1181, "color": "#000"}, {"offset": 0.1181, "color": "#fff"},
              {"offset": 0.1389, "color": "#fff"}, {"offset": 0.1389, "color": "#000"}, {"offset": 0.1458, "color": "#000"}, {"offset": 0.1458, "color": "#fff"},
              {"offset": 0.1667, "color": "#fff"}, {"offset": 0.1667, "color": "#000"}, {"offset": 0.1736, "color": "#000"}, {"offset": 0.1736, "color": "#fff"},
              {"offset": 0.1944, "color": "#fff"}, {"offset": 0.1944, "color": "#000"}, {"offset": 0.2014, "color": "#000"}, {"offset": 0.2014, "color": "#fff"},
              {"offset": 0.2222, "color": "#fff"}, {"offset": 0.2222, "color": "#000"}, {"offset": 0.2292, "color": "#000"}, {"offset": 0.2292, "color": "#fff"},
              {"offset": 0.25, "color": "#fff"}, {"offset": 0.25, "color": "#000"}, {"offset": 0.2569, "color": "#000"}, {"offset": 0.2569, "color": "#fff"},
              {"offset": 0.2778, "color": "#fff"}, {"offset": 0.2778, "color": "#000"}, {"offset": 0.2847, "color": "#000"}, {"offset": 0.2847, "color": "#fff"},
              {"offset": 0.3056, "color": "#fff"}, {"offset": 0.3056, "color": "#000"}, {"offset": 0.3125, "color": "#000"}, {"offset": 0.3125, "color": "#fff"},
              {"offset": 0.3333, "color": "#fff"}, {"offset": 0.3333, "color": "#000"}, {"offset": 0.3403, "color": "#000"}, {"offset": 0.3403, "color": "#fff"},
              {"offset": 0.3611, "color": "#fff"}, {"offset": 0.3611, "color": "#000"}, {"offset": 0.3681, "color": "#000"}, {"offset": 0.3681, "color": "#fff"},
              {"offset": 0.3889, "color": "#fff"}, {"offset": 0.3889, "color": "#000"}, {"offset": 0.3958, "color": "#000"}, {"offset": 0.3958, "color": "#fff"},
              {"offset": 0.4167, "color": "#fff"}, {"offset": 0.4167, "color": "#000"}, {"offset": 0.4236, "color": "#000"}, {"offset": 0.4236, "color": "#fff"},
              {"offset": 0.4444, "color": "#fff"}, {"offset": 0.4444, "color": "#000"}, {"offset": 0.4514, "color": "#000"}, {"offset": 0.4514, "color": "#fff"},
              {"offset": 0.4722, "color": "#fff"}, {"offset": 0.4722, "color": "#000"}, {"offset": 0.4792, "color": "#000"}, {"offset": 0.4792, "color": "#fff"},
              {"offset": 0.5, "color": "#fff"}, {"offset": 0.5, "color": "#000"}, {"offset": 0.5069, "color": "#000"}, {"offset": 0.5069, "color": "#fff"},
              {"offset": 0.5278, "color": "#fff"}, {"offset": 0.5278, "color": "#000"}, {"offset": 0.5347, "color": "#000"}, {"offset": 0.5347, "color": "#fff"},
              {"offset": 0.5556, "color": "#fff"}, {"offset": 0.5556, "color": "#000"}, {"offset": 0.5625, "color": "#000"}, {"offset": 0.5625, "color": "#fff"},
              {"offset": 0.5833, "color": "#fff"}, {"offset": 0.5833, "color": "#000"}, {"offset": 0.5903, "color": "#000"}, {"offset": 0.5903, "color": "#fff"},
              {"offset": 0.6111, "color": "#fff"}, {"offset": 0.6111, "color": "#000"}, {"offset": 0.6181, "color": "#000"}, {"offset": 0.6181, "color": "#fff"},
              {"offset": 0.6389, "color": "#fff"}, {"offset": 0.6389, "color": "#000"}, {"offset": 0.6458, "color": "#000"}, {"offset": 0.6458, "color": "#fff"},
              {"offset": 0.6667, "color": "#fff"}, {"offset": 0.6667, "color": "#000"}, {"offset": 0.6736, "color": "#000"}, {"offset": 0.6736, "color": "#fff"},
              {"offset": 0.6944, "color": "#fff"}, {"offset": 0.6944, "color": "#000"}, {"offset": 0.7014, "color": "#000"}, {"offset": 0.7014, "color": "#fff"},
              {"offset": 0.7222, "color": "#fff"}, {"offset": 0.7222, "color": "#000"}, {"offset": 0.7292, "color": "#000"}, {"offset": 0.7292, "color": "#fff"},
              {"offset": 0.75, "color": "#fff"}, {"offset": 0.75, "color": "#000"}, {"offset": 0.7569, "color": "#000"}, {"offset": 0.7569, "color": "#fff"},
              {"offset": 0.7778, "color": "#fff"}, {"offset": 0.7778, "color": "#000"}, {"offset": 0.7847, "color": "#000"}, {"offset": 0.7847, "color": "#fff"},
              {"offset": 0.8056, "color": "#fff"}, {"offset": 0.8056, "color": "#000"}, {"offset": 0.8125, "color": "#000"}, {"offset": 0.8125, "color": "#fff"},
              {"offset": 0.8333, "color": "#fff"}, {"offset": 0.8333, "color": "#000"}, {"offset": 0.8403, "color": "#000"}, {"offset": 0.8403, "color": "#fff"},
              {"offset": 0.8611, "color": "#fff"}, {"offset": 0.8611, "color": "#000"}, {"offset": 0.8681, "color": "#000"}, {"offset": 0.8681, "color": "#fff"},
              {"offset": 0.8889, "color": "#fff"}, {"offset": 0.8889, "color": "#000"}, {"offset": 0.8958, "color": "#000"}, {"offset": 0.8958, "color": "#fff"},
              {"offset": 0.9167, "color": "#fff"}, {"offset": 0.9167, "color": "#000"}, {"offset": 0.9236, "color": "#000"}, {"offset": 0.9236, "color": "#fff"},
              {"offset": 0.9444, "color": "#fff"}, {"offset": 0.9444, "color": "#000"}, {"offset": 0.9514, "color": "#000"}, {"offset": 0.9514, "color": "#fff"},
              {"offset": 0.9722, "color": "#fff"}, {"offset": 0.9722, "color": "#000"}, {"offset": 0.9792, "color": "#000"}, {"offset": 0.9792, "color": "#fff"}
            ]}}
        },
        {
          "transform": [{"filter": "datum.water == 'HARD WATER'"}],
          "encoding": {"xOffset": {"field": "water", "type": "nominal", "sort": null, "scale": {"domain": ["RO WATER", "HYPERSALINE WATER", "HARD WATER"]}}},
          "mark": {"type": "bar",
            "fill": {"gradient": "linear", "x1": 0, "y1": 0, "x2": 0.035, "y2": 1, "stops": [
              {"offset": 0, "color": "#000"}, {"offset": 0.0083, "color": "#fff"}, {"offset": 0.0167, "color": "#000"}, {"offset": 0.025, "color": "#fff"},
              {"offset": 0.0333, "color": "#000"}, {"offset": 0.0417, "color": "#fff"}, {"offset": 0.05, "color": "#000"}, {"offset": 0.0583, "color": "#fff"},
              {"offset": 0.0667, "color": "#000"}, {"offset": 0.075, "color": "#fff"}, {"offset": 0.0833, "color": "#000"}, {"offset": 0.0917, "color": "#fff"},
              {"offset": 0.1, "color": "#000"}, {"offset": 0.1083, "color": "#fff"}, {"offset": 0.1167, "color": "#000"}, {"offset": 0.125, "color": "#fff"},
              {"offset": 0.1333, "color": "#000"}, {"offset": 0.1417, "color": "#fff"}, {"offset": 0.15, "color": "#000"}, {"offset": 0.1583, "color": "#fff"},
              {"offset": 0.1667, "color": "#000"}, {"offset": 0.175, "color": "#fff"}, {"offset": 0.1833, "color": "#000"}, {"offset": 0.1917, "color": "#fff"},
              {"offset": 0.2, "color": "#000"}, {"offset": 0.2083, "color": "#fff"}, {"offset": 0.2167, "color": "#000"}, {"offset": 0.225, "color": "#fff"},
              {"offset": 0.2333, "color": "#000"}, {"offset": 0.2417, "color": "#fff"}, {"offset": 0.25, "color": "#000"}, {"offset": 0.2583, "color": "#fff"},
              {"offset": 0.2667, "color": "#000"}, {"offset": 0.275, "color": "#fff"}, {"offset": 0.2833, "color": "#000"}, {"offset": 0.2917, "color": "#fff"},
              {"offset": 0.3, "color": "#000"}, {"offset": 0.3083, "color": "#fff"}, {"offset": 0.3167, "color": "#000"}, {"offset": 0.325, "color": "#fff"},
              {"offset": 0.3333, "color": "#000"}, {"offset": 0.3417, "color": "#fff"}, {"offset": 0.35, "color": "#000"}, {"offset": 0.3583, "color": "#fff"},
              {"offset": 0.3667, "color": "#000"}, {"offset": 0.375, "color": "#fff"}, {"offset": 0.3833, "color": "#000"}, {"offset": 0.3917, "color": "#fff"},
              {"offset": 0.4, "color": "#000"}, {"offset": 0.4083, "color": "#fff"}, {"offset": 0.4167, "color": "#000"}, {"offset": 0.425, "color": "#fff"},
              {"offset": 0.4333, "color": "#000"}, {"offset": 0.4417, "color": "#fff"}, {"offset": 0.45, "color": "#000"}, {"offset": 0.4583, "color": "#fff"},
              {"offset": 0.4667, "color": "#000"}, {"offset": 0.475, "color": "#fff"}, {"offset": 0.4833, "color": "#000"}, {"offset": 0.4917, "color": "#fff"},
              {"offset": 0.5, "color": "#000"}, {"offset": 0.5083, "color": "#fff"}, {"offset": 0.5167, "color": "#000"}, {"offset": 0.525, "color": "#fff"},
              {"offset": 0.5333, "color": "#000"}, {"offset": 0.5417, "color": "#fff"}, {"offset": 0.55, "color": "#000"}, {"offset": 0.5583, "color": "#fff"},
              {"offset": 0.5667, "color": "#000"}, {"offset": 0.575, "color": "#fff"}, {"offset": 0.5833, "color": "#000"}, {"offset": 0.5917, "color": "#fff"},
              {"offset": 0.6, "color": "#000"}, {"offset": 0.6083, "color": "#fff"}, {"offset": 0.6167, "color": "#000"}, {"offset": 0.625, "color": "#fff"},
              {"offset": 0.6333, "color": "#000"}, {"offset": 0.6417, "color": "#fff"}, {"offset": 0.65, "color": "#000"}, {"offset": 0.6583, "color": "#fff"},
              {"offset": 0.6667, "color": "#000"}, {"offset": 0.675, "color": "#fff"}, {"offset": 0.6833, "color": "#000"}, {"offset": 0.6917, "color": "#fff"},
              {"offset": 0.7, "color": "#000"}, {"offset": 0.7083, "color": "#fff"}, {"offset": 0.7167, "color": "#000"}, {"offset": 0.725, "color": "#fff"},
              {"offset": 0.7333, "color": "#000"}, {"offset": 0.7417, "color": "#fff"}, {"offset": 0.75, "color": "#000"}, {"offset": 0.7583, "color": "#fff"},
              {"offset": 0.7667, "color": "#000"}, {"offset": 0.775, "color": "#fff"}, {"offset": 0.7833, "color": "#000"}, {"offset": 0.7917, "color": "#fff"},
              {"offset": 0.8, "color": "#000"}, {"offset": 0.8083, "color": "#fff"}, {"offset": 0.8167, "color": "#000"}, {"offset": 0.825, "color": "#fff"},
              {"offset": 0.8333, "color": "#000"}, {"offset": 0.8417, "color": "#fff"}, {"offset": 0.85, "color": "#000"}, {"offset": 0.8583, "color": "#fff"},
              {"offset": 0.8667, "color": "#000"}, {"offset": 0.875, "color": "#fff"}, {"offset": 0.8833, "color": "#000"}, {"offset": 0.8917, "color": "#fff"},
              {"offset": 0.9, "color": "#000"}, {"offset": 0.9083, "color": "#fff"}, {"offset": 0.9167, "color": "#000"}, {"offset": 0.925, "color": "#fff"},
              {"offset": 0.9333, "color": "#000"}, {"offset": 0.9417, "color": "#fff"}, {"offset": 0.95, "color": "#000"}, {"offset": 0.9583, "color": "#fff"},
              {"offset": 0.9667, "color": "#000"}, {"offset": 0.975, "color": "#fff"}, {"offset": 0.9833, "color": "#000"}, {"offset": 0.9917, "color": "#fff"},
              {"offset": 1, "color": "#000"}
            ]}}
        },
        {
          "transform": [{"filter": "datum.water == 'HARD WATER'"}],
          "encoding": {"xOffset": {"field": "water", "type": "nominal", "sort": null, "scale": {"domain": ["RO WATER", "HYPERSALINE WATER", "HARD WATER"]}}},
          "mark": {"type": "bar", "stroke": "black", "strokeWidth": 3,
            "fill": {"gradient": "linear", "x1": 0.035, "y1": 0, "x2": 0, "y2": 1, "stops": [
              {"offset": 0, "color": "#000"}, {"offset": 0.0083, "color": "transparent"}, {"offset": 0.0167, "color": "#000"}, {"offset": 0.025, "color": "transparent"},
              {"offset": 0.0333, "color": "#000"}, {"offset": 0.0417, "color": "transparent"}, {"offset": 0.05, "color": "#000"}, {"offset": 0.0583, "color": "transparent"},
              {"offset": 0.0667, "color": "#000"}, {"offset": 0.075, "color": "transparent"}, {"offset": 0.0833, "color": "#000"}, {"offset": 0.0917, "color": "transparent"},
              {"offset": 0.1, "color": "#000"}, {"offset": 0.1083, "color": "transparent"}, {"offset": 0.1167, "color": "#000"}, {"offset": 0.125, "color": "transparent"},
              {"offset": 0.1333, "color": "#000"}, {"offset": 0.1417, "color": "transparent"}, {"offset": 0.15, "color": "#000"}, {"offset": 0.1583, "color": "transparent"},
              {"offset": 0.1667, "color": "#000"}, {"offset": 0.175, "color": "transparent"}, {"offset": 0.1833, "color": "#000"}, {"offset": 0.1917, "color": "transparent"},
              {"offset": 0.2, "color": "#000"}, {"offset": 0.2083, "color": "transparent"}, {"offset": 0.2167, "color": "#000"}, {"offset": 0.225, "color": "transparent"},
              {"offset": 0.2333, "color": "#000"}, {"offset": 0.2417, "color": "transparent"}, {"offset": 0.25, "color": "#000"}, {"offset": 0.2583, "color": "transparent"},
              {"offset": 0.2667, "color": "#000"}, {"offset": 0.275, "color": "transparent"}, {"offset": 0.2833, "color": "#000"}, {"offset": 0.2917, "color": "transparent"},
              {"offset": 0.3, "color": "#000"}, {"offset": 0.3083, "color": "transparent"}, {"offset": 0.3167, "color": "#000"}, {"offset": 0.325, "color": "transparent"},
              {"offset": 0.3333, "color": "#000"}, {"offset": 0.3417, "color": "transparent"}, {"offset": 0.35, "color": "#000"}, {"offset": 0.3583, "color": "transparent"},
              {"offset": 0.3667, "color": "#000"}, {"offset": 0.375, "color": "transparent"}, {"offset": 0.3833, "color": "#000"}, {"offset": 0.3917, "color": "transparent"},
              {"offset": 0.4, "color": "#000"}, {"offset": 0.4083, "color": "transparent"}, {"offset": 0.4167, "color": "#000"}, {"offset": 0.425, "color": "transparent"},
              {"offset": 0.4333, "color": "#000"}, {"offset": 0.4417, "color": "transparent"}, {"offset": 0.45, "color": "#000"}, {"offset": 0.4583, "color": "transparent"},
              {"offset": 0.4667, "color": "#000"}, {"offset": 0.475, "color": "transparent"}, {"offset": 0.4833, "color": "#000"}, {"offset": 0.4917, "color": "transparent"},
              {"offset": 0.5, "color": "#000"}, {"offset": 0.5083, "color": "transparent"}, {"offset": 0.5167, "color": "#000"}, {"offset": 0.525, "color": "transparent"},
              {"offset": 0.5333, "color": "#000"}, {"offset": 0.5417, "color": "transparent"}, {"offset": 0.55, "color": "#000"}, {"offset": 0.5583, "color": "transparent"},
              {"offset": 0.5667, "color": "#000"}, {"offset": 0.575, "color": "transparent"}, {"offset": 0.5833, "color": "#000"}, {"offset": 0.5917, "color": "transparent"},
              {"offset": 0.6, "color": "#000"}, {"offset": 0.6083, "color": "transparent"}, {"offset": 0.6167, "color": "#000"}, {"offset": 0.625, "color": "transparent"},
              {"offset": 0.6333, "color": "#000"}, {"offset": 0.6417, "color": "transparent"}, {"offset": 0.65, "color": "#000"}, {"offset": 0.6583, "color": "transparent"},
              {"offset": 0.6667, "color": "#000"}, {"offset": 0.675, "color": "transparent"}, {"offset": 0.6833, "color": "#000"}, {"offset": 0.6917, "color": "transparent"},
              {"offset": 0.7, "color": "#000"}, {"offset": 0.7083, "color": "transparent"}, {"offset": 0.7167, "color": "#000"}, {"offset": 0.725, "color": "transparent"},
              {"offset": 0.7333, "color": "#000"}, {"offset": 0.7417, "color": "transparent"}, {"offset": 0.75, "color": "#000"}, {"offset": 0.7583, "color": "transparent"},
              {"offset": 0.7667, "color": "#000"}, {"offset": 0.775, "color": "transparent"}, {"offset": 0.7833, "color": "#000"}, {"offset": 0.7917, "color": "transparent"},
              {"offset": 0.8, "color": "#000"}, {"offset": 0.8083, "color": "transparent"}, {"offset": 0.8167, "color": "#000"}, {"offset": 0.825, "color": "transparent"},
              {"offset": 0.8333, "color": "#000"}, {"offset": 0.8417, "color": "transparent"}, {"offset": 0.85, "color": "#000"}, {"offset": 0.8583, "color": "transparent"},
              {"offset": 0.8667, "color": "#000"}, {"offset": 0.875, "color": "transparent"}, {"offset": 0.8833, "color": "#000"}, {"offset": 0.8917, "color": "transparent"},
              {"offset": 0.9, "color": "#000"}, {"offset": 0.9083, "color": "transparent"}, {"offset": 0.9167, "color": "#000"}, {"offset": 0.925, "color": "transparent"},
              {"offset": 0.9333, "color": "#000"}, {"offset": 0.9417, "color": "transparent"}, {"offset": 0.95, "color": "#000"}, {"offset": 0.9583, "color": "transparent"},
              {"offset": 0.9667, "color": "#000"}, {"offset": 0.975, "color": "transparent"}, {"offset": 0.9833, "color": "#000"}, {"offset": 0.9917, "color": "transparent"},
              {"offset": 1, "color": "#000"}
            ]}}
        },
        {
          "mark": {"type": "rule", "color": "black", "strokeWidth": 2.5},
          "encoding": {
            "xOffset": {"field": "water", "type": "nominal", "sort": null, "scale": {"domain": ["RO WATER", "HYPERSALINE WATER", "HARD WATER"]}},
            "y": {"field": "low", "type": "quantitative"},
            "y2": {"field": "high"}
          }
        },
        {
          "mark": {"type": "tick", "color": "black", "thickness": 2.5, "size": 10, "opacity": 1},
          "encoding": {
            "xOffset": {"field": "water", "type": "nominal", "sort": null, "scale": {"domain": ["RO WATER", "HYPERSALINE WATER", "HARD WATER"]}},
            "y": {"field": "low", "type": "quantitative"}
          }
        },
        {
          "mark": {"type": "tick", "color": "black", "thickness": 2.5, "size": 10, "opacity": 1},
          "encoding": {
            "xOffset": {"field": "water", "type": "nominal", "sort": null, "scale": {"domain": ["RO WATER", "HYPERSALINE WATER", "HARD WATER"]}},
            "y": {"field": "high", "type": "quantitative"}
          }
        },
        {
          "transform": [{"filter": "datum.sample == 'S2.1' && datum.water == 'RO WATER'"}],
          "mark": {"type": "text", "align": "left", "baseline": "top", "dx": -23, "dy": 5, "font": "Liberation Sans", "fontSize": 34, "fontWeight": "bold", "fill": "black"},
          "encoding": {
            "y": {"datum": 150},
            "text": {"value": "b)"}
          }
        }
      ]
    }
  ],
  "config": {
    "font": "Liberation Sans",
    "view": {"stroke": null},
    "axis": {
      "labelFont": "Liberation Sans", "labelFontWeight": "bold", "labelFontSize": 27, "labelColor": "#000",
      "titleFont": "Liberation Sans", "titleFontWeight": "bold", "titleFontSize": 27, "titleColor": "#000",
      "domainColor": "#000", "domainWidth": 3, "tickColor": "#000", "tickWidth": 3, "tickSize": 10, "grid": false
    },
    "legend": {
      "labelFont": "Liberation Sans", "labelFontWeight": "bold", "labelFontSize": 35, "labelColor": "#000", "labelLimit": 0
    }
  }
}
